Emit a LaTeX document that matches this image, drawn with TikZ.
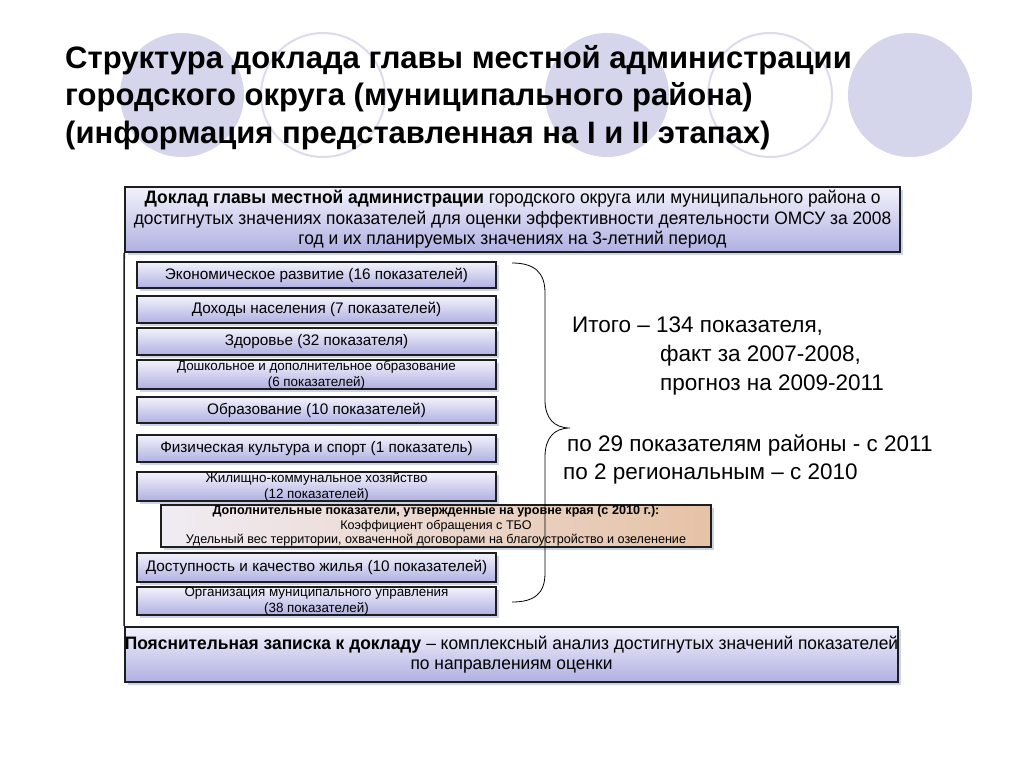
\documentclass[tikz,border=0pt]{standalone}
\usepackage{fontspec}
\setmainfont{Liberation Sans}
\newfontfamily\narrowfont[FakeStretch=0.965]{Liberation Sans}
\usetikzlibrary{shadows}
\definecolor{lav}{RGB}{213,213,235}
\definecolor{boxtop}{RGB}{242,242,252}
\definecolor{boxbot}{RGB}{176,176,226}
\definecolor{shad}{RGB}{204,212,230}
\definecolor{peachL}{RGB}{240,236,244}
\definecolor{peachR}{RGB}{230,194,166}
\definecolor{edge}{RGB}{30,30,30}
\tikzset{
  box/.style={draw=edge, line width=1.6pt, top color=boxtop, bottom color=boxbot,
    inner sep=0pt, align=center,
    drop shadow={shadow xshift=3pt, shadow yshift=-3pt, fill=shad, opacity=1}},
  leftbox/.style={box, minimum width=359pt, font=\fontsize{15.3}{17}\selectfont},
  smallbox/.style={box, minimum width=359pt, font=\fontsize{13.4}{16}\selectfont},
  bigbox/.style={box, font=\narrowfont\fontsize{18}{20.5}\selectfont},
  orangebox/.style={draw=edge, line width=1.6pt, left color=peachL, right color=peachR,
    inner sep=0pt, align=center, font=\fontsize{12.6}{14.5}\selectfont,
    drop shadow={shadow xshift=3pt, shadow yshift=-3pt, fill=shad, opacity=1}},
  titletext/.style={anchor=base west, inner sep=0pt, font=\bfseries\fontsize{31}{36}\selectfont},
  sidetext/.style={anchor=base west, inner sep=0pt, font=\fontsize{22.5}{26}\selectfont},
  circfill/.style={fill=lav, draw=none},
  circline/.style={draw=lav!85!white, line width=2pt, fill=none},
  brace/.style={draw=black, line width=0.8pt},
}
\begin{document}
\begin{tikzpicture}[x=1pt,y=-1pt]
\useasboundingbox (0,0) rectangle (1024,768);
\fill[white] (0,0) rectangle (1024,768);
% decorative circles
\path[circfill] (182,95) circle (62);
\path[circline] (323,95) circle (62);
\path[circfill] (607,95) circle (62);
\path[circline] (770,95) circle (62);
\path[circfill] (910,95) circle (62);
% title
\node[titletext] (t1) at (65,68) {Структура доклада главы местной администрации};
\node[titletext] (t2) at (65,105.5) {городского округа (муниципального района)};
\node[titletext] (t3) at (65,143) {(информация представленная на I и II этапах)};
% top and bottom boxes
\node[bigbox, minimum width=775pt, minimum height=65pt] (top) at (512.5,219.5)
  {\textbf{Доклад главы местной администрации} городского округа или муниципального района о\\
   достигнутых значениях показателей для оценки эффективности деятельности ОМСУ за 2008\\
   год и их планируемых значениях на 3-летний период};
\node[bigbox, minimum width=773pt, minimum height=55pt] (bot) at (511.5,654.5)
  {\textbf{Пояснительная записка к докладу} – комплексный анализ достигнутых значений показателей\\
   по направлениям оценки};
\draw[edge, line width=1.6pt] (top.south west) -- (bot.north west);
% left column
\node[leftbox, minimum height=26pt] (b1) at (316.5,275) {Экономическое развитие (16 показателей)};
\node[leftbox, minimum height=27pt] (b2) at (316.5,309.5) {Доходы населения (7 показателей)};
\node[leftbox, minimum height=27pt] (b3) at (316.5,341.5) {Здоровье (32 показателя)};
\node[smallbox, minimum height=27pt] (b4) at (316.5,374.5) {Дошкольное и дополнительное образование\\(6 показателей)};
\node[leftbox, minimum height=26pt] (b5) at (316.5,410) {Образование (10 показателей)};
\node[leftbox, minimum height=27pt] (b6) at (316.5,448.5) {Физическая культура и спорт (1 показатель)};
\node[smallbox, minimum height=27pt] (b7) at (316.5,486.5) {Жилищно-коммунальное хозяйство\\(12 показателей)};
\node[orangebox, minimum width=550pt, minimum height=42pt] (ob) at (436,526)
  {\textbf{Дополнительные показатели, утвержденные на уровне края (с 2010 г.):}\\
   Коэффициент обращения с ТБО\\
   Удельный вес территории, охваченной договорами на благоустройство и озеленение};
\node[leftbox, minimum height=29pt] (b8) at (316.5,567.5) {Доступность и качество жилья (10 показателей)};
\node[smallbox, minimum height=26pt] (b9) at (316.5,601) {Организация муниципального управления\\(38 показателей)};
% brace
\coordinate (bt) at (512,263);
\coordinate (bm) at (570,428);
\coordinate (bb) at (512,602);
\draw[brace] (bt) .. controls (534,263) and (545,272) .. (545,293) -- (545,400)
  .. controls (545,418) and (554,428) .. (bm)
  .. controls (554,428) and (545,438) .. (545,457) -- (545,573)
  .. controls (545,594) and (534,602) .. (bb);
% side texts
\node[sidetext] (s1) at (572,332) {Итого – 134 показателя,};
\node[sidetext] (s2) at (660,361) {факт за 2007-2008,};
\node[sidetext] (s3) at (660,390) {прогноз на 2009-2011};
\node[sidetext] (s4) at (567,451) {по 29 показателям районы - с 2011};
\node[sidetext] (s5) at (563,479) {по 2 региональным – с 2010};
\end{tikzpicture}
\end{document}
